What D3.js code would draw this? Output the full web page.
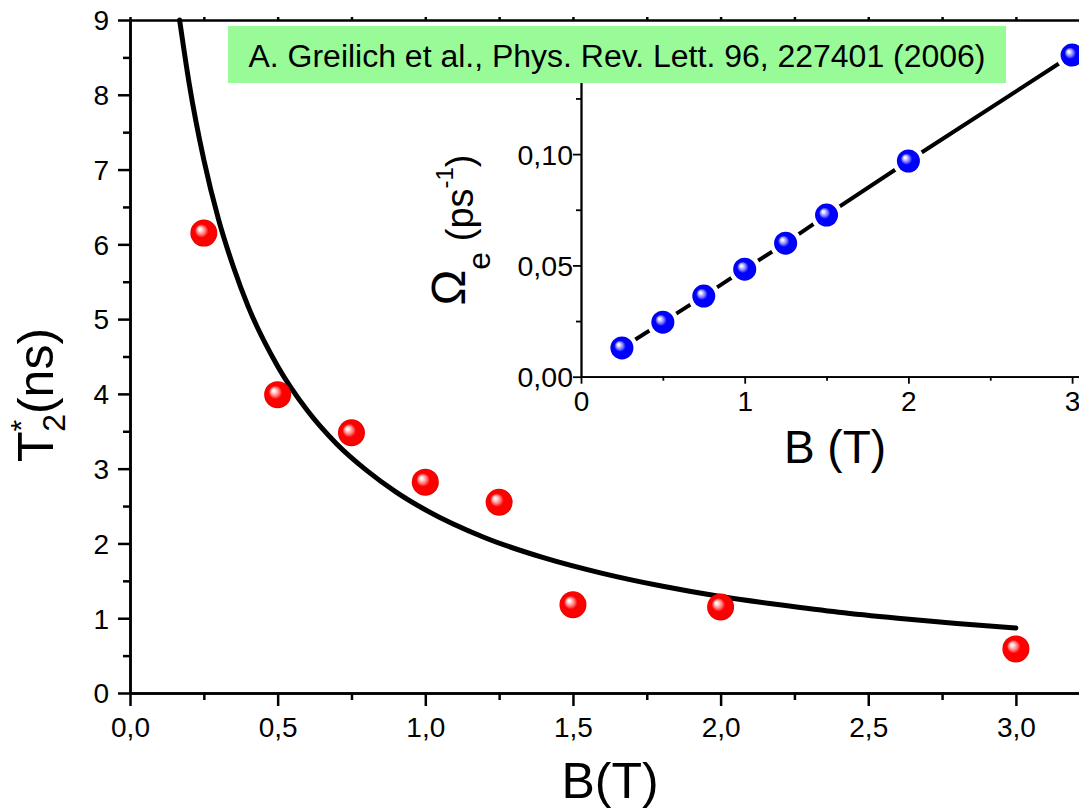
<!DOCTYPE html>
<html>
<head>
<meta charset="utf-8">
<script src="https://cdn.jsdelivr.net/npm/d3@7"></script>
<style>
html,body{margin:0;padding:0;background:#fff;}
svg{display:block;}
text{font-family:Arial,"Liberation Sans",sans-serif;fill:#000;}
</style>
</head>
<body>
<svg id="chart" width="1079" height="808"></svg>
<script>
// ---------- data ----------
const mainB = [0.25, 0.5, 0.75, 1.0, 1.25, 1.5, 2.0, 3.0];
const mainT2 = [6.15, 3.99, 3.48, 2.82, 2.55, 1.18, 1.15, 0.59];

const fitB = [0.168, 0.2, 0.25, 0.3, 0.35, 0.4, 0.5, 0.6, 0.7, 0.8, 0.9, 1.0, 1.2, 1.4, 1.6, 1.8, 2.0, 2.2, 2.4, 2.6, 2.8, 3.0];
const fitT = [9.0, 8.16, 7.13, 6.33, 5.70, 5.17, 4.37, 3.78, 3.33, 2.98, 2.69, 2.45, 2.08, 1.81, 1.60, 1.43, 1.29, 1.18, 1.08, 1.00, 0.93, 0.87];

const insetB = [0.25, 0.5, 0.75, 1.0, 1.25, 1.5, 2.0, 3.0];
const insetOmega = [0.0129, 0.0245, 0.0362, 0.0483, 0.0600, 0.0726, 0.0969, 0.1445];

const mainXTicks = [0, 0.5, 1.0, 1.5, 2.0, 2.5, 3.0];
const mainXMinor = [0.25, 0.75, 1.25, 1.75, 2.25, 2.75, 3.25];
const mainYTicks = [0,1,2,3,4,5,6,7,8,9];
const mainYMinor = [0.5,1.5,2.5,3.5,4.5,5.5,6.5,7.5,8.5];
const insetXTicks = [0, 1, 2, 3];
const insetXMinor = [0.5, 1.5, 2.5];
const insetYTicks = [0, 0.05, 0.10];
const insetYMinor = [0.025, 0.075, 0.125];

const citation = "A. Greilich et al., Phys. Rev. Lett. 96, 227401 (2006)";

// ---------- setup ----------
const svg = d3.select("#chart");
const defs = svg.append("defs");
function ball(id, light, mid, main, edge){
  const g = defs.append("radialGradient").attr("id", id)
    .attr("cx","50%").attr("cy","50%").attr("r","50%").attr("fx","34%").attr("fy","34%");
  g.append("stop").attr("offset","0").attr("stop-color","#ffffff");
  g.append("stop").attr("offset","0.12").attr("stop-color",light);
  g.append("stop").attr("offset","0.32").attr("stop-color",mid);
  g.append("stop").attr("offset","0.5").attr("stop-color",main);
  g.append("stop").attr("offset","0.88").attr("stop-color",main);
  g.append("stop").attr("offset","1").attr("stop-color",edge);
}
ball("redBall", "#ffe6e6", "#ff7a7a", "#ff0000", "#e00000");
ball("blueBall", "#e6e6ff", "#7a7aff", "#0000ff", "#0000d8");

const comma = f => d => d3.format(f)(d).replace(".", ",");

// ---------- main plot ----------
const x = d3.scaleLinear().domain([0, 3.25]).range([130, 130 + 3.25 * 295.3]);
const y = d3.scaleLinear().domain([0, 9]).range([693, 20]);

function styleAxis(g, w){
  g.select(".domain").attr("stroke","#000").attr("stroke-width",w);
  g.selectAll(".tick line").attr("stroke","#000").attr("stroke-width",w);
}

// minor ticks
const mxMinor = svg.append("g").attr("transform","translate(0,693)")
  .call(d3.axisBottom(x).tickValues(mainXMinor).tickSize(7).tickSizeOuter(0).tickFormat(""));
styleAxis(mxMinor, 2.5);
const myMinor = svg.append("g").attr("transform","translate(130,0)")
  .call(d3.axisLeft(y).tickValues(mainYMinor).tickSize(7).tickSizeOuter(0).tickFormat(""));
styleAxis(myMinor, 2.5);

const mx = svg.append("g").attr("transform","translate(0,693)")
  .call(d3.axisBottom(x).tickValues(mainXTicks).tickSize(13).tickSizeOuter(0).tickFormat(comma(".1f")));
styleAxis(mx, 2.5);
mx.selectAll(".tick text").attr("y", 44).attr("dy", 0).style("font-size","28px");

const my = svg.append("g").attr("transform","translate(130,0)")
  .call(d3.axisLeft(y).tickValues(mainYTicks).tickSize(12).tickSizeOuter(0).tickFormat(d3.format("d")));
styleAxis(my, 2.5);
my.selectAll(".tick text").attr("x", -21).attr("dy","0.35em").style("font-size","28px");

const mt = svg.append("g").attr("transform","translate(0,20)")
  .call(d3.axisTop(x).tickValues(mainXTicks.concat(mainXMinor)).tickSize(3).tickSizeOuter(0).tickFormat(""));
styleAxis(mt, 2.5);

// axis titles
svg.append("text").attr("x", 610).attr("y", 798).attr("text-anchor","middle")
  .style("font-size","50px").text("B(T)");

const yt = svg.append("text").attr("transform","translate(53,395) rotate(-90)")
  .attr("text-anchor","middle").style("font-size","50px");
yt.append("tspan").text("T");
yt.append("tspan").attr("dy",-22).style("font-size","30px").text("*");
yt.append("tspan").attr("dx",-12).attr("dy",34).style("font-size","32px").text("2");
yt.append("tspan").attr("dy",-12).text("(ns)");

// fit curve
const fitData = fitB.map((b,i)=>[b, fitT[i]]);
svg.append("path").datum(fitData)
  .attr("fill","none").attr("stroke","#000").attr("stroke-width",5)
  .attr("stroke-linecap","round")
  .attr("d", d3.line().x(d=>x(d[0])).y(d=>y(d[1])).curve(d3.curveMonotoneX));

// red points
svg.append("g").selectAll("circle").data(mainB.map((b,i)=>[b, mainT2[i]])).join("circle")
  .attr("cx", d=>x(d[0])).attr("cy", d=>y(d[1])).attr("r", 13.5)
  .attr("fill","url(#redBall)");

// ---------- inset ----------
const ix = d3.scaleLinear().domain([0, 3.1]).range([581, 581 + 3.1 * 163.7]);
const iy = d3.scaleLinear().domain([0, 0.15]).range([376.7, 376.7 - 0.15 * 2226]);

const ixMinor = svg.append("g").attr("transform","translate(0,376.7)")
  .call(d3.axisBottom(ix).tickValues(insetXMinor).tickSize(4).tickSizeOuter(0).tickFormat(""));
styleAxis(ixMinor, 1.8);
const iyMinor = svg.append("g").attr("transform","translate(581,0)")
  .call(d3.axisLeft(iy).tickValues(insetYMinor).tickSize(5).tickSizeOuter(0).tickFormat(""));
styleAxis(iyMinor, 1.8);

const ixA = svg.append("g").attr("transform","translate(0,376.7)")
  .call(d3.axisBottom(ix).tickValues(insetXTicks).tickSize(7).tickSizeOuter(0).tickFormat(d3.format("d")));
styleAxis(ixA, 1.8);
ixA.selectAll(".tick text").attr("y", 34).attr("dy", 0).style("font-size","28px");

const iyA = svg.append("g").attr("transform","translate(581,0)")
  .call(d3.axisLeft(iy).tickValues(insetYTicks).tickSize(8).tickSizeOuter(0).tickFormat(comma(".2f")));
styleAxis(iyA, 1.8);
iyA.selectAll(".tick text").attr("x", -8).attr("dy","0.35em").style("font-size","28.5px");

svg.append("text").attr("x", 835).attr("y", 463).attr("text-anchor","middle")
  .style("font-size","46px").text("B (T)");

const it = svg.append("text").attr("transform","translate(465,230) rotate(-90)")
  .attr("text-anchor","middle").style("font-size","48px");
it.append("tspan").text("Ω");
it.append("tspan").attr("dy",25).style("font-size","32px").text("e");
it.append("tspan").attr("dy",-17).style("font-size","38px").text(" (ps");
it.append("tspan").attr("dy",-20).style("font-size","24px").text("-1");
it.append("tspan").attr("dy",20).style("font-size","38px").text(")");

// inset line with gaps
const insetData = insetB.map((b,i)=>[b, insetOmega[i]]);
svg.append("path").datum(insetData)
  .attr("fill","none").attr("stroke","#000").attr("stroke-width",4)
  .attr("d", d3.line().x(d=>ix(d[0])).y(d=>iy(d[1])));
const ip = svg.append("g");
ip.selectAll("circle.halo").data(insetData).join("circle").attr("class","halo")
  .attr("cx", d=>ix(d[0])).attr("cy", d=>iy(d[1])).attr("r", 16).attr("fill","#fff");
ip.selectAll("circle.pt").data(insetData).join("circle").attr("class","pt")
  .attr("cx", d=>ix(d[0])).attr("cy", d=>iy(d[1])).attr("r", 11.5)
  .attr("fill","url(#blueBall)");

// ---------- citation box ----------
svg.append("rect").attr("x",228).attr("y",26).attr("width",778).attr("height",57).attr("fill","#98fb98");
svg.append("text").attr("x",617).attr("y",67).attr("text-anchor","middle")
  .attr("textLength",737).attr("lengthAdjust","spacingAndGlyphs")
  .style("font-size","31px").text(citation);
</script>
</body>
</html>
